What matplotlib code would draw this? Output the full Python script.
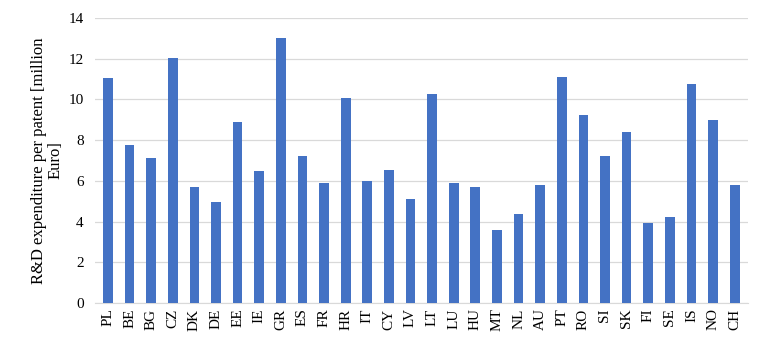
import matplotlib
matplotlib.use("Agg")
import matplotlib.pyplot as plt

countries = ["PL", "BE", "BG", "CZ", "DK", "DE", "EE", "IE", "GR", "ES", "FR", "HR",
             "IT", "CY", "LV", "LT", "LU", "HU", "MT", "NL", "AU", "PT", "RO", "SI",
             "SK", "FI", "SE", "IS", "NO", "CH"]
values = [11.05, 7.75, 7.1, 12.05, 5.7, 4.95, 8.9, 6.5, 13.0, 7.2, 5.9, 10.05,
          6.0, 6.55, 5.1, 10.25, 5.9, 5.7, 3.6, 4.35, 5.8, 11.1, 9.25, 7.2,
          8.4, 3.95, 4.2, 10.75, 9.0, 5.8]
yticks = [0, 2, 4, 6, 8, 10, 12, 14]

plt.rcParams['font.family'] = ['Liberation Serif', 'DejaVu Serif']

fig = plt.figure(figsize=(7.66, 3.47), dpi=100)
ax = fig.add_axes([0.124, 0.127, 0.852, 0.821])

x = list(range(len(countries)))
ax.bar(x, values, width=0.45, color="#4472C4", zorder=3)
ax.set_xlim(-0.6, len(countries) - 0.4)
ax.set_ylim(0, 14)
ax.set_yticks(yticks)
ax.set_xticks(x)
ax.set_xticklabels(countries, rotation=90, fontsize=11)
ax.tick_params(axis='y', labelsize=11, length=0, pad=8)
ax.tick_params(axis='x', length=0, pad=4)
ax.grid(axis='y', color="#d9d9d9", linewidth=0.9, zorder=0)
for s in ["top", "right", "left"]:
    ax.spines[s].set_visible(False)
ax.spines["bottom"].set_color("#d9d9d9")
ax.set_ylabel("R&D expenditure per patent [million\nEuro]", fontsize=12, linespacing=1.0)

fig.savefig("out.png", dpi=100)
